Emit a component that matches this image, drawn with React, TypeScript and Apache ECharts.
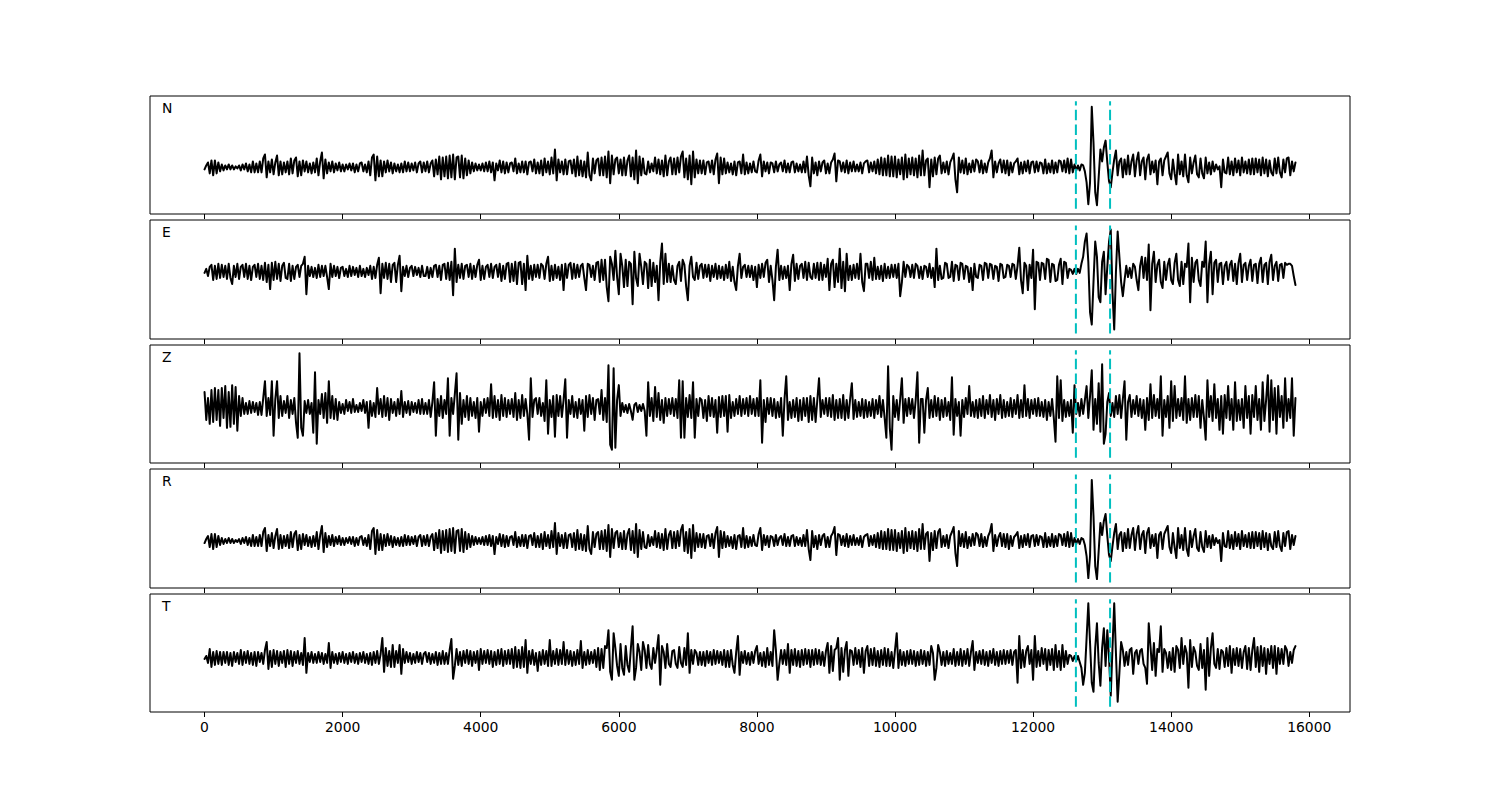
import React, { useEffect, useRef } from "react";
import * as echarts from "echarts";

// Sample interval of the traces (x units per value)
const SAMPLE_STEP = 25;
const componentNames = ["N", "E", "Z", "R", "T"];
const pickTimes = [12620, 13115];
const xTickValues = [0, 2000, 4000, 6000, 8000, 10000, 12000, 14000, 16000];
const xRange = [-790, 16590];

// Vertical extent of the pick markers in each panel (data units)
const nPickExtent = [-41.5, 66.5];
const ePickExtent = [-61, 46];
const zPickExtent = [-50, 58];
const rPickExtent = [-41.5, 66.5];
const tPickExtent = [-49, 59];

const nValues = [
  -2, 2, 5, -6, 7, -8, 7, -6, 5, -4, 3, -3, 2, -2, 3, -2,
  2, -2, 1, -1, 2, -3, 3, -2, 4, -4, 3, -5, 6, -5, 4, -5,
  6, -5, 9, 13, -10, 6, -5, 8, -7, 5, 12, -8, 6, -7, 5, -5,
  6, -7, 9, -6, 7, 10, -9, 6, -8, 7, -4, 6, -5, 4, -6, 5,
  -5, 9, -8, 6, 15, -11, 8, -6, 5, -4, 6, -5, 4, -3, 5, -4,
  3, -4, 3, -2, 4, -3, 4, -5, 3, -4, 4, 5, -4, 3, -5, 6,
  -8, 10, 13, -13, 11, -9, 7, -9, 6, -5, 7, -4, 5, -6, 4, -4,
  3, -5, 4, -5, 6, -4, 5, -4, 4, -3, 5, -5, 4, 6, -5, 5,
  -4, 6, -5, 4, 7, -9, 8, -7, 11, -12, 10, -9, 11, -11, 12, -10,
  13, -12, 10, 11, -10, 12, -11, 9, -8, 7, -6, 5, -4, 4, -3, 3,
  -3, 4, -4, 5, -4, 6, -5, 5, -13, 4, -3, 7, -5, 6, -6, 5,
  -5, 4, 5, -4, 9, -6, 4, -5, 6, -5, 6, -7, 5, 6, -4, 8,
  -6, 5, -6, 7, -8, 9, -5, 6, -7, 10, -6, 18, -13, 8, -5, 6,
  -7, 8, -7, 6, 7, -6, 8, -9, 11, -8, 7, -9, 6, -10, 15, -8,
  -13, 9, -6, 7, 9, -8, 10, -8, 11, -10, 16, -16, 12, -7, 8, 10,
  -6, 8, -8, 10, -8, 7, 12, -9, 10, -12, 17, -16, 11, -8, 9, -6,
  -7, 6, -5, 4, -4, 10, -6, 8, -7, 7, -9, 12, -8, 6, 10, -7,
  9, -7, 10, -5, 11, 16, -10, 9, -12, 12, -17, 16, -10, 8, -6, 7,
  -6, 7, -7, 5, 6, -5, 7, -7, 8, 14, -16, 10, -7, 9, -6, 5,
  -5, 4, -7, 6, -8, 5, 6, -6, 13, -7, 5, -6, 4, -5, 6, -4,
  -5, 7, 13, -9, 6, -4, 5, -6, 5, 4, -5, 6, -4, 3, 5, -4,
  7, -5, 4, -5, 5, 6, -5, 4, -4, 3, -5, 6, -5, 11, -8, -19,
  10, -6, 5, -8, 6, -4, 5, 7, -6, 4, -6, 5, 8, 14, -14, 7,
  6, -4, 5, -5, 7, -6, 5, -4, 6, -4, 3, -4, 5, -6, 4, 6,
  7, -5, 5, -4, 6, -6, 8, -7, 10, -8, 9, -8, 12, -9, 11, -9,
  11, -10, 8, -7, 10, -12, 13, -10, 9, -7, 10, -8, 9, -10, 12, -8,
  17, -8, 7, 9, -20, 8, -9, 10, -7, 9, 12, -6, 5, -5, 6, -7,
  5, 9, 14, -12, -25, 10, -5, 7, -6, 9, -7, 4, -5, 7, -4, 8,
  6, -5, 7, -6, 4, -5, 5, 9, 17, -10, 6, -5, 4, 8, -5, 7,
  -6, 7, -8, 5, -5, 4, 6, 9, -7, 5, -6, 6, -4, 7, -6, 5,
  6, -5, 6, -4, 5, 4, -6, 8, -6, 4, -5, 7, -6, 5, -5, 7,
  6, -4, 7, -5, 9, -6, 8, -5, 3, -3, 2, -3, 3, 2, -4, -15,
  -37, -15, 61, 25, -25, -38, -10, 18, 6, 20, 27, 5, -14, -20, -5, 8,
  17, -8, 6, 9, -10, 8, -7, 12, -7, 6, 13, -9, 7, 15, -8, 6,
  10, -12, 8, 13, -7, 6, -5, 7, -17, 6, 9, -8, 7, 11, 15, -6,
  -12, 8, -6, -17, 13, -7, 6, -9, 13, -8, -15, 10, -6, 5, 12, -7,
  -10, 9, -6, -11, 10, -6, 5, -7, 6, -4, 3, -2, 1, -20, 8, -5,
  -6, 10, -7, 6, -8, 9, -5, 7, -8, 10, -5, 6, -6, 8, -7, 9,
  -7, 9, -5, 8, -8, 10, -6, 8, -9, 7, -5, -8, 9, -6, 10, -5,
  -10, 8, -5, 9, 10, -8, 6, -4, 5,
];

const eValues = [
  -1, 3, -4, 5, 7, -8, 6, -7, 8, -6, 7, -5, 6, -7, 8, -6,
  -12, 6, -5, 8, -7, 5, 7, -5, 8, -7, 6, -8, 5, 7, -5, 8,
  -7, 6, -8, 9, -10, 7, -17, 9, -8, 10, -7, 8, -9, 6, 9, -6,
  -7, 8, -9, 6, -7, 5, 7, -5, 6, 8, 15, -22, 6, -4, 5, -5,
  4, -6, 7, -5, 6, -4, 6, -5, -17, 8, -5, 6, -4, 5, -6, 4,
  5, -4, 3, -5, 6, -4, 5, -3, 4, -5, 6, -4, 3, -5, 4, -3,
  6, -7, 5, -6, 7, 14, -21, 8, -6, 9, -7, 8, -10, 7, 9, -10,
  7, 16, -19, 5, -4, 6, -5, 4, 6, -4, 5, -3, 4, -5, 6, -4,
  -4, 5, -6, 4, -5, 6, 7, -5, 6, -8, 7, 8, -7, 9, -8, 10,
  -23, 23, -10, 7, -6, 8, -7, 6, 7, -5, 8, -7, 6, -5, 7, 12,
  -8, 6, -7, 5, 7, -5, 8, -6, 5, 7, -5, 8, -9, 6, -7, 8,
  9, -10, 8, -9, 10, -12, 9, 10, -12, 8, -18, 16, -7, 6, -8, 7,
  -5, 7, -6, 8, 6, -7, 8, 15, -9, 6, -8, 7, -6, 5, -8, 7,
  -18, 8, -6, 7, 9, -7, 8, -6, 7, -5, 6, 8, -6, -18, 8, 7,
  -5, 6, -8, 9, 10, -10, 12, -8, 12, -15, -29, 15, 8, -8, 21, -5,
  -22, 18, 6, -15, 12, -14, 10, 8, -32, 20, -6, -14, 18, 5, -12, 10,
  8, -16, 12, -14, 9, -10, 6, -28, 10, 28, -12, 18, -10, 8, -10, 6,
  -8, -12, 6, 10, -9, 12, 7, -14, -28, 6, 15, -5, -8, 9, -7, 6,
  8, -6, 7, -5, 7, -9, 6, -5, 8, -7, 6, -6, 5, -8, 7, -6,
  10, -9, 5, -10, -18, 6, 18, -6, 5, 7, -5, 6, -5, 6, -8, 5,
  -15, 7, -6, 8, -5, 9, 12, -10, 6, -8, -28, 5, 22, -8, 6, -7,
  5, -6, 6, -18, 8, 17, -9, 8, -7, 6, 8, -6, 10, -8, 9, -5,
  -7, 8, -6, 9, -8, 9, -8, 7, -5, 13, -18, 8, 12, -15, 8, -10,
  23, -16, 10, -19, 18, -8, 6, -8, 7, -6, 8, -7, 18, -10, -19, 8,
  8, -6, 10, -8, 14, -7, 5, -7, 6, -9, 8, -6, 5, -6, 7, -5,
  7, -6, 8, -24, -10, 10, -5, 7, 5, -5, 7, -6, 8, 6, -6, 5,
  -7, 6, 5, -5, 8, -6, 4, -15, 23, -8, 6, -7, -6, 9, 8, -6,
  -5, 10, -9, 7, 6, -8, 9, 8, -7, 6, 5, -10, 4, -18, 8, -5,
  -6, 7, 6, -8, 9, 8, -6, 8, 7, -7, 6, 5, -9, 8, 7, -6,
  -5, 7, 6, -5, 8, 7, -7, 6, 24, -8, -21, 9, 6, -18, 7, -6,
  22, -37, 10, 9, -8, 9, 8, -7, 13, 12, -10, 8, 7, -9, -8, 7,
  13, -12, 10, 9, -6, 3, 2, -2, 3, -2, 3, -1, 8, 15, 30, 38,
  10, -40, -52, -10, 30, 15, -25, -30, 10, 20, -22, 5, 30, 42, -20, -57,
  0, 40, 15, -10, -24, -8, 6, -5, 4, -6, 8, 5, -8, -18, 6, 15,
  -6, 14, -8, 27, -38, 8, 20, -10, 7, 12, -10, -16, 10, -8, 7, 13,
  -8, -12, 9, 18, -8, -14, 10, -12, 8, 5, 28, -30, 14, -10, 9, 12,
  -8, -14, 10, 5, 30, -30, 8, 20, -22, 9, 12, -10, 8, 9, -12, 6,
  10, -8, 7, 11, -9, 8, -12, 9, 18, -10, 7, 9, -8, 6, 12, -9,
  7, 8, -11, 8, 14, -10, 7, 9, -12, 10, 17, -8, 6, 10, -9, 7,
  8, -6, 9, 7, 8, 8, 6, -4, -13,
];

const zValues = [
  16, -12, 10, -16, 18, -14, 20, -12, 18, -18, 20, -10, 22, -20, 16, -19,
  23, -16, 21, -23, 12, -8, 10, -6, 5, -6, 7, -5, 6, -4, 5, -7,
  6, -7, 10, 27, -8, 10, -7, 27, -28, 9, 27, -10, 12, -8, 7, -5,
  12, -10, 8, -6, 10, -15, -30, 55, -20, -28, 7, -5, 8, -6, 5, -25,
  36, -36, 8, -6, 14, -10, 15, -15, 27, -10, 12, -11, 9, -12, 6, -5,
  4, -6, 8, -3, 6, -5, 9, -4, 3, -4, 5, -3, 8, -5, 6, -20,
  7, -8, 5, -9, 20, -6, 9, -9, 12, -8, 10, -12, 9, -5, 6, -8,
  9, -6, 17, -9, 6, -5, 7, -7, 6, -4, 5, -5, 8, -6, 9, -6,
  5, -6, 8, -9, 6, 26, -28, 9, -8, 12, -10, 8, -6, 30, -28, 10,
  -6, 14, 35, -32, 15, -16, 8, -9, 12, -12, 10, -8, 6, -10, 10, -24,
  6, -8, 9, -5, 10, -8, 24, -10, 12, -9, 8, -12, 13, -8, 10, -9,
  8, -6, 9, -9, 15, -12, 8, -10, 13, -8, 9, -6, -32, 30, -9, 8,
  10, -6, 10, -8, 5, -13, 28, -26, 8, -9, 12, -29, 13, -8, 12, -9,
  8, 29, -30, 8, -6, 12, -9, 6, -10, 9, -6, 8, -23, 12, -9, 13,
  -6, 10, -12, 8, 9, -6, 18, -12, 10, -14, 43, -37, -42, 40, -40, 8,
  23, -8, 5, -4, 3, -5, 4, -3, -12, 3, 5, -4, 3, -3, 4, -3,
  -28, 26, -8, 10, -13, 21, -9, 15, -12, 8, -15, 10, -8, 9, -6, 10,
  -8, 9, -10, 28, -30, 27, -30, 10, -9, 13, -10, 26, -30, 9, -8, 10,
  8, -10, 8, -13, 12, -8, 10, -9, 8, -25, 11, -9, 12, -8, 12, -24,
  13, -10, 6, -8, 9, -6, 12, -8, 9, -6, 10, -8, 12, -6, 9, -8,
  10, -8, 28, -35, 8, -14, 10, -6, 10, -8, 9, -10, 6, -9, 10, -28,
  9, 32, -12, 6, -10, 8, -9, 10, -13, 8, -12, 10, -8, 10, -14, 12,
  -12, 10, -14, 8, 30, -9, 8, -6, 10, -8, 10, -9, 13, -12, 8, -10,
  9, -10, 13, -12, 8, -10, 9, 25, -11, 8, -9, 6, -8, 9, -10, 8,
  -9, 6, -8, 9, -10, 8, -6, 12, -9, 8, -10, -30, 42, -20, -42, 12,
  -9, 8, -12, 9, 30, -15, 9, -8, 10, -6, 9, -10, 8, 36, -35, 9,
  9, -25, 8, 20, -10, 8, -9, 12, -8, 10, -12, 8, -9, 10, -8, 6,
  -12, 31, -27, 9, -8, 6, -28, 8, -9, 10, -6, 22, -8, 6, -9, 8,
  -10, 9, -8, 12, -10, 8, -6, 13, -9, 8, -12, 9, -6, 13, -10, 8,
  -9, 6, -8, 10, -9, 8, -6, 13, -10, 8, -9, 23, -8, 9, -10, 8,
  -6, 9, -8, 10, -8, 6, -9, 8, -12, 6, -8, 9, -10, -34, 32, -10,
  28, -13, 8, -9, 6, -8, 8, -25, 23, -6, 5, -8, 9, -6, 8, 22,
  -10, 12, 38, -22, 9, -16, 25, -24, 44, -36, -26, 6, 15, -8, 5, -9,
  12, -6, 13, -10, 9, 27, -32, 6, 13, -9, 8, -6, 12, -8, 9, -10,
  8, -22, 10, -12, 24, -10, 13, -8, 9, -10, 32, -28, 8, -9, 12, -20,
  27, -13, 22, -10, 9, -8, 10, -12, 32, -15, 9, -12, 10, -9, 13, -9,
  12, -20, 8, -10, -32, 28, -9, 12, -13, 24, -10, 9, -22, 12, -26, 13,
  -10, 22, -12, 9, -22, 26, -13, 8, -12, 9, -20, 22, -10, 12, -26, 13,
  -9, 22, -12, 9, -22, 26, -13, 8, 33, -24, 28, -12, 20, -26, 22, -9,
  12, -20, 30, -13, 9, -10, 30, -28, 10,
];

const rValues = [
  -2, 2, 5, -6, 7, -8, 7, -6, 5, -4, 3, -3, 2, -2, 3, -2,
  2, -2, 1, -1, 2, -3, 3, -2, 4, -4, 3, -5, 6, -5, 4, -5,
  6, -5, 9, 13, -10, 6, -5, 8, -7, 5, 12, -8, 6, -7, 5, -5,
  6, -7, 9, -6, 7, 10, -9, 6, -8, 7, -4, 6, -5, 4, -6, 5,
  -5, 9, -8, 6, 15, -11, 8, -6, 5, -4, 6, -5, 4, -3, 5, -4,
  3, -4, 3, -2, 4, -3, 4, -5, 3, -4, 4, 5, -4, 3, -5, 6,
  -8, 10, 13, -13, 11, -9, 7, -9, 6, -5, 7, -4, 5, -6, 4, -4,
  3, -5, 4, -5, 6, -4, 5, -4, 4, -3, 5, -5, 4, 6, -5, 5,
  -4, 6, -5, 4, 7, -9, 8, -7, 11, -12, 10, -9, 11, -11, 12, -10,
  13, -12, 10, 11, -10, 12, -11, 9, -8, 7, -6, 5, -4, 4, -3, 3,
  -3, 4, -4, 5, -4, 6, -5, 5, -13, 4, -3, 7, -5, 6, -6, 5,
  -5, 4, 5, -4, 9, -6, 4, -5, 6, -5, 6, -7, 5, 6, -4, 8,
  -6, 5, -6, 7, -8, 9, -5, 6, -7, 10, -6, 18, -13, 8, -5, 6,
  -7, 8, -7, 6, 7, -6, 8, -9, 11, -8, 7, -9, 6, -10, 15, -8,
  -13, 9, -6, 7, 9, -8, 10, -8, 11, -10, 16, -16, 12, -7, 8, 10,
  -6, 8, -8, 10, -8, 7, 12, -9, 10, -12, 17, -16, 11, -8, 9, -6,
  -7, 6, -5, 4, -4, 10, -6, 8, -7, 7, -9, 12, -8, 6, 10, -7,
  9, -7, 10, -5, 11, 16, -10, 9, -12, 12, -17, 16, -10, 8, -6, 7,
  -6, 7, -7, 5, 6, -5, 7, -7, 8, 14, -16, 10, -7, 9, -6, 5,
  -5, 4, -7, 6, -8, 5, 6, -6, 13, -7, 5, -6, 4, -5, 6, -4,
  -5, 7, 13, -9, 6, -4, 5, -6, 5, 4, -5, 6, -4, 3, 5, -4,
  7, -5, 4, -5, 5, 6, -5, 4, -4, 3, -5, 6, -5, 11, -8, -19,
  10, -6, 5, -8, 6, -4, 5, 7, -6, 4, -6, 5, 8, 14, -14, 7,
  6, -4, 5, -5, 7, -6, 5, -4, 6, -4, 3, -4, 5, -6, 4, 6,
  7, -5, 5, -4, 6, -6, 8, -7, 10, -8, 9, -8, 12, -9, 11, -9,
  11, -10, 8, -7, 10, -12, 13, -10, 9, -7, 10, -8, 9, -10, 12, -8,
  17, -8, 7, 9, -20, 8, -9, 10, -7, 9, 12, -6, 5, -5, 6, -7,
  5, 9, 14, -12, -25, 10, -5, 7, -6, 9, -7, 4, -5, 7, -4, 8,
  6, -5, 7, -6, 4, -5, 5, 9, 17, -10, 6, -5, 4, 8, -5, 7,
  -6, 7, -8, 5, -5, 4, 6, 9, -7, 5, -6, 6, -4, 7, -6, 5,
  6, -5, 6, -4, 5, 4, -6, 8, -6, 4, -5, 7, -6, 5, -5, 7,
  6, -4, 7, -5, 9, -6, 8, -5, 3, -3, 2, -3, 3, 2, -4, -15,
  -37, -15, 61, 25, -25, -38, -10, 18, 6, 20, 27, 5, -14, -20, -5, 8,
  17, -8, 6, 9, -10, 8, -7, 12, -7, 6, 13, -9, 7, 15, -8, 6,
  10, -12, 8, 13, -7, 6, -5, 7, -17, 6, 9, -8, 7, 11, 15, -6,
  -12, 8, -6, -17, 13, -7, 6, -9, 13, -8, -15, 10, -6, 5, 12, -7,
  -10, 9, -6, -11, 10, -6, 5, -7, 6, -4, 3, -2, 1, -20, 8, -5,
  -6, 10, -7, 6, -8, 9, -5, 7, -8, 10, -5, 6, -6, 8, -7, 9,
  -7, 9, -5, 8, -8, 10, -6, 8, -9, 7, -5, -8, 9, -6, 10, -5,
  -10, 8, -5, 9, 10, -8, 6, -4, 5,
];

const tValues = [
  -1, 2, -5, 9, -9, 6, -7, 7, -6, 6, -7, 6, -5, 6, -7, 5,
  -8, 6, -4, 5, -6, 8, -7, 6, -5, 7, -6, 5, -7, 6, -8, 6,
  -4, 5, -6, 8, 16, -11, 7, -9, 8, -6, 7, -8, 6, -5, 7, -9,
  8, -6, 7, -8, 6, -5, 7, -6, 5, -7, 20, -15, 5, -4, 6, -5,
  4, -5, 6, -4, 5, -6, 4, -5, 15, -10, 6, -5, 4, -6, 5, -4,
  6, -5, 4, -6, 5, -4, 6, -5, 4, -6, 5, -4, 6, -5, 4, -6,
  5, -7, 6, -5, 7, -6, 4, 20, -14, 10, -8, 7, -9, 13, -9, 7,
  -5, 13, -16, 9, -5, 6, -4, 5, -6, 4, -5, 6, -4, 5, -6, 4,
  6, -4, 5, -6, 4, -5, 6, -7, 5, -6, 7, -6, 5, -6, 8, 19,
  -21, -8, 9, -7, 6, -8, 7, -5, 8, -6, 7, -8, 6, -5, 7, -12,
  9, -6, 7, -5, 8, -6, 7, -9, 6, -7, 8, -6, 9, -8, 7, -6,
  8, -6, 9, -10, 11, -9, 8, -10, 11, -9, 18, -15, 7, -6, 8, -7,
  5, -13, 6, -7, 8, -6, 7, -8, 18, -8, 7, -6, 9, -7, 8, -6,
  16, -7, 8, -6, 7, -8, 6, -7, 8, -6, 17, -10, 6, -7, 8, -6,
  6, -5, 8, -9, 10, -12, 9, -10, 12, 10, 28, -14, -22, 25, 10, -8,
  -18, 14, -10, -17, 12, -7, -14, 10, 32, -22, -10, 14, 6, -12, 16, 8,
  -10, 13, -6, -11, 10, -5, 8, 23, -27, 12, 6, -10, 14, -6, -9, 7,
  8, -6, -10, 11, -5, -9, 10, -7, 25, -15, 8, -6, 8, 5, -7, 6,
  -7, 6, -8, 7, -5, 6, -7, 8, -6, 7, -5, 6, -7, 8, -9, 7,
  -9, 8, -7, -15, 6, 22, -17, 6, -5, 7, -6, 5, -7, 6, -5, 7,
  12, -6, 5, -8, 6, -9, 10, -7, 6, -8, 28, 8, -22, -6, 8, -6,
  8, -7, 14, -15, 8, -7, 9, -8, 7, -9, 8, -7, 9, -6, 8, -9,
  8, -7, 9, -6, 8, -7, 6, -8, 7, 15, -15, 12, -13, 8, 10, 20,
  -22, 10, -14, 8, 16, -18, 8, 7, -7, 10, -6, 8, -9, 10, -15, 7,
  12, -8, 9, -7, 10, -8, 7, -9, 8, -7, 10, -8, 9, -8, 6, -10,
  8, 25, -10, 8, -7, 6, -8, 7, -6, 8, -6, 7, -8, 6, -7, 8,
  -6, 7, -8, 6, -7, 12, 5, -22, -10, 13, 6, -7, 6, -8, 7, -6,
  5, -6, 9, -8, 6, -7, 9, -8, 7, -6, 9, -8, 6, 17, -12, 6,
  -5, 7, -6, 8, -7, 6, -8, 7, -5, 9, -7, 6, -8, 7, -6, 8,
  -6, 7, -5, 8, -7, 6, 8, -25, 22, -10, 8, -9, 7, 12, -6, 8,
  -22, 22, -9, 7, -8, 10, -6, 9, -12, 8, -7, 9, -12, 13, -9, 7,
  -12, 13, -9, 7, -6, 3, 2, -3, 2, -3, 2, -4, -10, -27, -15, 20,
  55, 15, -25, -34, 10, 35, -5, -28, 10, 30, -8, 28, 0, -38, 10, 55,
  5, -44, -15, 16, 8, -8, 6, -7, 8, 10, -16, 5, 8, -6, 7, 9,
  -6, -10, -26, 35, 12, -12, 15, -18, 9, 6, 32, -14, 9, 5, -10, 6,
  -12, 10, -14, 12, 8, -10, 20, -6, 12, 5, -30, 18, -9, 11, 6, -8,
  -12, 14, -10, 8, -32, 20, -18, 10, 25, -6, -10, 9, -11, 8, 6, -9,
  10, -8, 12, -15, 9, -7, 10, -8, 9, -10, 6, 12, -11, 10, -12, 8,
  20, -9, 11, -14, 12, -8, 10, -16, 9, -6, 12, -10, 12, -16, 10, -6,
  9, -6, 12, 8, -8, 6, -5, 8, 12,
];

export default function App() {
  const ref = useRef<HTMLDivElement>(null);

  useEffect(() => {
    if (!ref.current) return;
    const chart = echarts.init(ref.current, null, { renderer: "svg" });

    const traces = [nValues, eValues, zValues, rValues, tValues];
    const extents = [nPickExtent, ePickExtent, zPickExtent, rPickExtent, tPickExtent];

    const figTop = 96;
    const figBottom = 712;
    const hspace = 0.05;
    const n = traces.length;
    const panelH = (figBottom - figTop) / (n + (n - 1) * hspace);
    const gap = panelH * hspace;

    const grids: any[] = [];
    const xAxes: any[] = [];
    const yAxes: any[] = [];
    const series: any[] = [];
    const graphics: any[] = [];

    traces.forEach((trace, i) => {
      const top = Math.round(figTop + i * (panelH + gap));
      const bottom = Math.round(figTop + i * (panelH + gap) + panelH);
      grids.push({
        left: 150,
        width: 1200,
        top,
        height: bottom - top,
        show: true,
        borderColor: "#000",
        borderWidth: 1,
        backgroundColor: "transparent",
      });
      xAxes.push({
        type: "value",
        gridIndex: i,
        position: "bottom",
        min: xRange[0],
        max: xRange[1],
        axisLine: { show: false, onZero: false },
        splitLine: { show: false },
        axisTick: {
          show: true,
          inside: false,
          length: 5,
          customValues: xTickValues,
          lineStyle: { color: "#000", width: 1 },
        },
        axisLabel: {
          show: i === n - 1,
          customValues: xTickValues,
          formatter: (v: number) => String(v),
          color: "#000",
          fontSize: 13.9,
          fontFamily: "DejaVu Sans",
          margin: 8,
        },
      });
      const [lo, hi] = extents[i];
      const pad = (hi - lo) * 0.05;
      yAxes.push({
        type: "value",
        gridIndex: i,
        min: lo - pad,
        max: hi + pad,
        show: false,
      });
      series.push({
        type: "line",
        xAxisIndex: i,
        yAxisIndex: i,
        data: trace.map((v, k) => [k * SAMPLE_STEP, v]),
        showSymbol: false,
        symbol: "none",
        silent: true,
        clip: true,
        lineStyle: { color: "#000", width: 2, join: "round", cap: "round" },
      });
      pickTimes.forEach((t) => {
        series.push({
          type: "line",
          xAxisIndex: i,
          yAxisIndex: i,
          data: [
            [t, lo],
            [t, hi],
          ],
          showSymbol: false,
          symbol: "none",
          silent: true,
          lineStyle: { color: "#00bfbf", width: 2, type: [10.3, 4.45] },
        });
      });
      graphics.push({
        type: "text",
        x: 162,
        y: top + 12,
        silent: true,
        style: {
          text: componentNames[i],
          fill: "#000",
          font: '13.9px "DejaVu Sans"',
          textVerticalAlign: "middle",
          verticalAlign: "middle",
        },
      });
    });

    chart.setOption({
      animation: false,
      backgroundColor: "#fff",
      grid: grids,
      xAxis: xAxes,
      yAxis: yAxes,
      series,
      graphic: graphics,
    });

    return () => {
      chart.dispose();
    };
  }, []);

  return (
    <div
      ref={ref}
      style={{ position: "fixed", left: 0, top: 0, width: 1500, height: 800, background: "#fff" }}
    />
  );
}
